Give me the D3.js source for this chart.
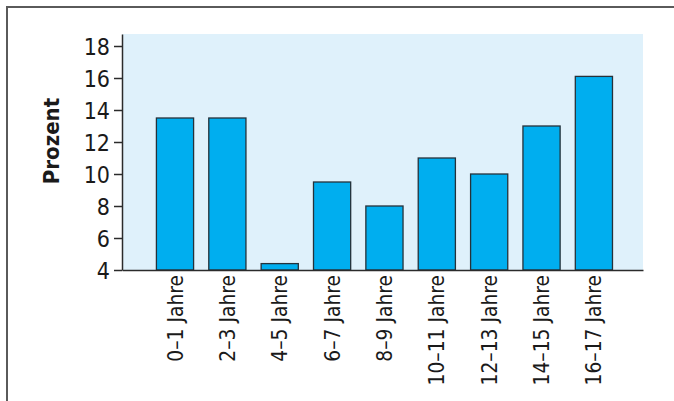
<!DOCTYPE html>
<html>
<head>
<meta charset="utf-8">
<script src="https://cdn.jsdelivr.net/npm/d3@7"></script>
<style>
  html, body { margin: 0; padding: 0; background: #fff; }
  svg { display: block; }
  .tick text { font-family: "DejaVu Sans Condensed", "Liberation Sans Narrow", sans-serif; fill: #1a1a1a; }
</style>
</head>
<body>
<svg id="chart" width="674" height="401"></svg>
<script>
// Age groups and share in percent
const categories = ["0–1 Jahre", "2–3 Jahre", "4–5 Jahre", "6–7 Jahre", "8–9 Jahre",
                    "10–11 Jahre", "12–13 Jahre", "14–15 Jahre", "16–17 Jahre"];
const values = [13.5, 13.5, 4.4, 9.5, 8.0, 11.0, 10.0, 13.0, 16.1];
const yTicks = [4, 6, 8, 10, 12, 14, 16, 18];
const yLabel = "Prozent";

const svg = d3.select("#chart");
const W = 674, H = 401;

// outer frame (top and left edges)
svg.append("path")
  .attr("d", `M7,${H + 2} L7,7 L${W + 2},7`)
  .attr("fill", "none")
  .attr("stroke", "#5a5a5a")
  .attr("stroke-width", 2);

const plot = { left: 122, right: 643, top: 34, bottom: 270 };

const y = d3.scaleLinear().domain([4, 18.75]).range([plot.bottom, plot.top]);
const x = d3.scaleBand()
  .domain(categories)
  .range([plot.left, plot.right])
  .paddingInner(0.29)
  .paddingOuter(0.62)
  .align(0.53);

// plot background
svg.append("rect")
  .attr("x", plot.left).attr("y", plot.top)
  .attr("width", plot.right - plot.left)
  .attr("height", plot.bottom - plot.top)
  .attr("fill", "#dff1fb");

// bars
svg.append("g").selectAll("rect")
  .data(categories)
  .join("rect")
  .attr("x", d => x(d))
  .attr("y", (d, i) => y(values[i]))
  .attr("width", x.bandwidth())
  .attr("height", (d, i) => y(4) - y(values[i]))
  .attr("fill", "#00aeef")
  .attr("stroke", "#25323a")
  .attr("stroke-width", 1.3);

// y axis
const yAxis = svg.append("g")
  .attr("transform", `translate(${plot.left},0)`)
  .call(d3.axisLeft(y).tickValues(yTicks).tickSize(8).tickSizeOuter(0).tickPadding(4));
yAxis.select(".domain").attr("stroke", "#2b2b2b").attr("stroke-width", 1.5);
yAxis.selectAll(".tick line").attr("stroke", "#2b2b2b").attr("stroke-width", 1.5);
yAxis.selectAll(".tick text").attr("font-size", 23).attr("dy", "0.36em");

// x axis
const xAxis = svg.append("g")
  .attr("transform", `translate(0,${plot.bottom})`)
  .call(d3.axisBottom(x).tickSize(0).tickSizeOuter(0).tickPadding(6));
xAxis.select(".domain").attr("stroke", "#2b2b2b").attr("stroke-width", 1.5);
xAxis.selectAll(".tick text")
  .attr("font-size", 20.8)
  .attr("text-anchor", "end")
  .attr("transform", "rotate(-90)")
  .attr("x", -5)
  .attr("y", 0)
  .attr("dy", "0.36em");

// y axis title
svg.append("text")
  .attr("transform", "translate(51,141) rotate(-90)")
  .attr("text-anchor", "middle")
  .attr("dy", "0.36em")
  .attr("font-family", '"DejaVu Sans Condensed", "Liberation Sans Narrow", sans-serif')
  .attr("font-weight", "bold")
  .attr("font-size", 22)
  .attr("fill", "#1a1a1a")
  .text(yLabel);
</script>
</body>
</html>
